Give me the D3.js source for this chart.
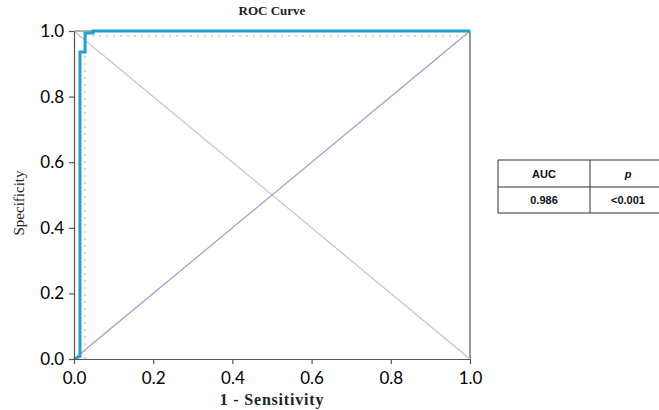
<!DOCTYPE html>
<html lang="en">
<head>
<meta charset="UTF-8">
<title>ROC Curve</title>
<script src="https://cdn.jsdelivr.net/npm/d3@7"></script>
<style>
  body { margin: 0; background: #fff; }
</style>
</head>
<body>
<div id="output"></div>
<script>

// ROC step curve (1 - Sensitivity, Specificity)
var rocX = [0, 0.015, 0.015, 0.028, 0.028, 0.048, 0.048, 1];
var rocY = [0, 0.008, 0.936, 0.936, 0.994, 0.994, 1, 1];
var cutX = 0.028;
var cutY = 0.985;
var ticks = [0, 0.2, 0.4, 0.6, 0.8, 1.0];
var tableHead = ["AUC", "p"];
var tableRow = ["0.986", "<0.001"];

var w = 659, h = 410;
var m = { left: 74, top: 31, right: 189, bottom: 51 };

var svg = d3.select("#output").append("svg")
    .attr("width", w)
    .attr("height", h);

var x = d3.scaleLinear().domain([0, 1]).range([m.left, w - m.right]);
var y = d3.scaleLinear().domain([0, 1]).range([h - m.bottom, m.top]);

// box (top + right)
svg.append("line")
    .attr("x1", x(0)).attr("x2", x(1)).attr("y1", y(1)).attr("y2", y(1))
    .attr("stroke", "#999").attr("stroke-width", 1.5);
svg.append("line")
    .attr("x1", x(1)).attr("x2", x(1)).attr("y1", y(0)).attr("y2", y(1))
    .attr("stroke", "#555").attr("stroke-width", 1.2);

// reference diagonals
svg.append("line")
    .attr("x1", x(0)).attr("y1", y(1)).attr("x2", x(1)).attr("y2", y(0))
    .attr("stroke", "#c4c4c4").attr("stroke-width", 1.2);
svg.append("line")
    .attr("x1", x(0)).attr("y1", y(0)).attr("x2", x(1)).attr("y2", y(1))
    .attr("stroke", "#9a9ccf").attr("stroke-width", 1.2);

// cutoff dotted lines
svg.append("line")
    .attr("x1", x(cutX)).attr("x2", x(cutX)).attr("y1", y(0)).attr("y2", y(cutY))
    .attr("stroke", "#c8c8c8").attr("stroke-width", 1.5).attr("stroke-dasharray", "2,5");
svg.append("line")
    .attr("x1", x(cutX)).attr("x2", x(1)).attr("y1", y(cutY)).attr("y2", y(cutY))
    .attr("stroke", "#c8c8c8").attr("stroke-width", 1.5).attr("stroke-dasharray", "2,5");

// ROC curve
var pts = rocX.map(function (d, i) { return [d, rocY[i]]; });
svg.append("path")
    .datum(pts)
    .attr("d", d3.line().x(function (d) { return x(d[0]); }).y(function (d) { return y(d[1]); }))
    .attr("fill", "none")
    .attr("stroke", "#1ca0d6")
    .attr("stroke-width", 3);

// axes
var xAxis = svg.append("g")
    .attr("transform", "translate(0," + y(0) + ")")
    .call(d3.axisBottom(x).tickValues(ticks).tickFormat(d3.format(".1f")).tickSize(5).tickSizeOuter(0));
var yAxis = svg.append("g")
    .attr("transform", "translate(" + x(0) + ",0)")
    .call(d3.axisLeft(y).tickValues(ticks).tickFormat(d3.format(".1f")).tickSize(5).tickSizeOuter(0));

[xAxis, yAxis].forEach(function (a) {
    a.select(".domain").attr("stroke", "#555").attr("stroke-width", 1.2);
    a.selectAll(".tick line").attr("stroke", "#555").attr("stroke-width", 1.2);
    a.selectAll("text")
        .attr("fill", "#000")
        .style("font-family", "Lato, 'Open Sans', sans-serif")
        .style("font-size", "17px");
});
xAxis.selectAll("text").attr("dy", "1em").attr("y", 8);
yAxis.selectAll("text").attr("x", -10);

// titles
svg.append("text")
    .attr("x", (x(0) + x(1)) / 2).attr("y", 15)
    .attr("text-anchor", "middle")
    .style("font-family", "'Liberation Serif', serif")
    .style("font-size", "13px")
    .style("font-weight", "bold")
    .attr("fill", "#222")
    .text("ROC Curve");

svg.append("text")
    .attr("x", (x(0) + x(1)) / 2).attr("y", 405)
    .attr("text-anchor", "middle")
    .style("font-family", "'Liberation Serif', serif")
    .style("font-size", "16px")
    .style("font-weight", "bold")
    .style("letter-spacing", "0.8px")
    .attr("fill", "#222")
    .text("1 - Sensitivity");

svg.append("text")
    .attr("transform", "translate(24,203) rotate(-90)")
    .attr("text-anchor", "middle")
    .style("font-family", "'Liberation Serif', serif")
    .style("font-size", "15px")
    .attr("fill", "#222")
    .text("Specificity");

// result table
var tx = [498, 590, 666];
var ty = [160, 187, 213];
var tbl = svg.append("g");
ty.forEach(function (yy) {
    tbl.append("line").attr("x1", tx[0]).attr("x2", tx[2]).attr("y1", yy).attr("y2", yy)
        .attr("stroke", "#333").attr("stroke-width", 1);
});
tx.forEach(function (xx) {
    tbl.append("line").attr("x1", xx).attr("x2", xx).attr("y1", ty[0]).attr("y2", ty[2])
        .attr("stroke", "#333").attr("stroke-width", 1);
});
[tableHead, tableRow].forEach(function (row, r) {
    row.forEach(function (t, c) {
        tbl.append("text")
            .attr("x", c === 0 ? (tx[0] + tx[1]) / 2 : 628)
            .attr("y", (ty[r] + ty[r + 1]) / 2 + 4)
            .attr("text-anchor", "middle")
            .style("font-family", "'Liberation Sans', Arial, sans-serif")
            .style("font-size", "11px")
            .style("font-weight", "bold")
            .style("font-style", r === 0 && c === 1 ? "italic" : "normal")
            .attr("fill", "#111")
            .text(t);
    });
});

</script>
</body>
</html>
